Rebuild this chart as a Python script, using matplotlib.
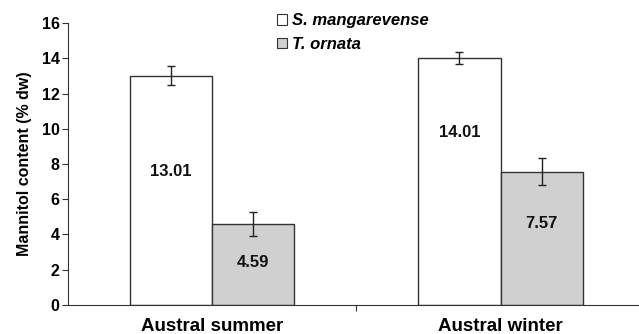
import matplotlib
matplotlib.use("Agg")
import matplotlib.pyplot as plt
import numpy as np
from matplotlib.patches import Patch

# ----
# Data
# ----

seasons = ["Austral summer", "Austral winter"]
species = ["S. mangarevense", "T. ornata"]
s_mang = [13.01, 14.01]
s_mang_err = [0.55, 0.35]
t_orn = [4.59, 7.57]
t_orn_err = [0.7, 0.75]
label_y = [[7.6, 9.8], [2.4, 4.6]]
yticks = [0, 2, 4, 6, 8, 10, 12, 14, 16]

plt.rcParams["font.family"] = ["Liberation Sans", "DejaVu Sans"]
plt.rcParams["font.weight"] = "bold"

fig = plt.figure(figsize=(6.39, 3.34), dpi=100)
ax = fig.add_axes([0.1064, 0.087, 0.8936, 0.844])

edge = "#333333"
colors = ["white", "#d0d0d0"]
width = 0.285
x = np.arange(len(seasons))

for i, (vals, errs) in enumerate([(s_mang, s_mang_err), (t_orn, t_orn_err)]):
    pos = x + (i - 0.5) * width
    ax.bar(pos, vals, width=width, color=colors[i], edgecolor=edge,
           linewidth=1.0, zorder=2)
    ax.errorbar(pos, vals, yerr=errs, fmt="none", ecolor="#222222",
                elinewidth=1.0, capsize=3, capthick=1.0, zorder=3)
    for p, v, ly in zip(pos, vals, label_y[i]):
        ax.text(p, ly, f"{v:.2f}", ha="center", va="center",
                fontsize=12, fontweight="bold", color="#111111")

ax.set_xlim(-0.5, 1.48)
ax.set_ylim(0, 16)
ax.set_yticks(yticks)
ax.set_yticklabels([str(t) for t in yticks], fontsize=11.5, fontweight="bold")
ax.set_xticks([0.5])
ax.set_xticklabels([""])
ax.tick_params(axis="x", length=4, direction="out", color=edge)
ax.tick_params(axis="y", length=4, direction="out", color=edge, pad=2)
for i, s in enumerate(seasons):
    ax.annotate(s, (x[i], 0), xycoords=("data", "axes fraction"),
                xytext=(0, -13), textcoords="offset pixels",
                ha="center", va="top", fontsize=13.5, fontweight="bold")

ax.spines["top"].set_visible(False)
ax.spines["right"].set_visible(False)
ax.spines["left"].set_color(edge)
ax.spines["bottom"].set_color(edge)
ax.set_ylabel("Mannitol content (% dw)", fontsize=11.5, fontweight="bold", labelpad=7)

handles = [Patch(facecolor=c, edgecolor=edge, linewidth=0.8) for c in colors]
leg = fig.legend(handles, species, loc="upper left", bbox_to_anchor=(0.415, 0.995),
                 frameon=False, handlelength=0.6, handleheight=0.6,
                 handletextpad=0.3, labelspacing=0.5, borderpad=0.2,
                 prop={"size": 12, "weight": "bold", "style": "italic"})

fig.savefig("out.png", dpi=100)
